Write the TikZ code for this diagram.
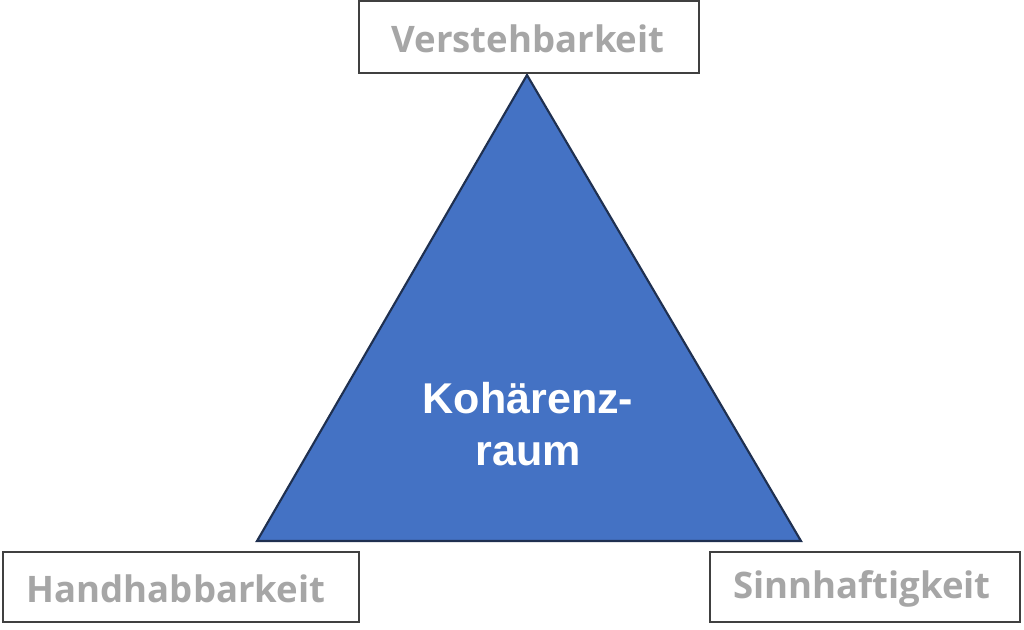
\documentclass[tikz,border=0pt]{standalone}
\usepackage{fontspec}
\setmainfont{Open Sans}
\newfontfamily\arialf{Liberation Sans}
\definecolor{trifill}{HTML}{4472C4}
\definecolor{triedge}{HTML}{1F3050}
\definecolor{labelgray}{HTML}{A6A6A6}
\definecolor{boxedge}{HTML}{404040}
\begin{document}
\begin{tikzpicture}[x=0.75pt,y=-0.75pt,
  labelbox/.style={draw=boxedge,line width=1.1pt,fill=white,inner sep=0pt},
  labeltext/.style={text=labelgray,font=\fontsize{27.4}{32}\selectfont\bfseries}]
\useasboundingbox (0,0) rectangle (1024,629);
\coordinate (apex) at (527,75);
\coordinate (bl) at (257,541);
\coordinate (br) at (801,541);
\draw[fill=trifill,draw=triedge,line width=1.6pt,line join=miter] (apex) -- (bl) -- (br) -- cycle;
\node[labelbox,minimum width=255pt,minimum height=54pt] (top) at (529,37) {};
\node[labeltext] (toptxt) at (528,39) {Verstehbarkeit};
\node[labelbox,minimum width=267pt,minimum height=52.5pt] (left) at (181,587) {};
\node[labeltext] (lefttxt) at (176,589) {Handhabbarkeit};
\node[labelbox,minimum width=232.5pt,minimum height=52.5pt] (right) at (865,587) {};
\node[labeltext] (righttxt) at (862,589) {Sinnhaftigkeit};
\node[text=white,font=\arialf\fontsize{32.3}{38.5}\selectfont\bfseries,align=center] (center) at (528,424) {Kohärenz-\\raum};
\end{tikzpicture}
\end{document}
